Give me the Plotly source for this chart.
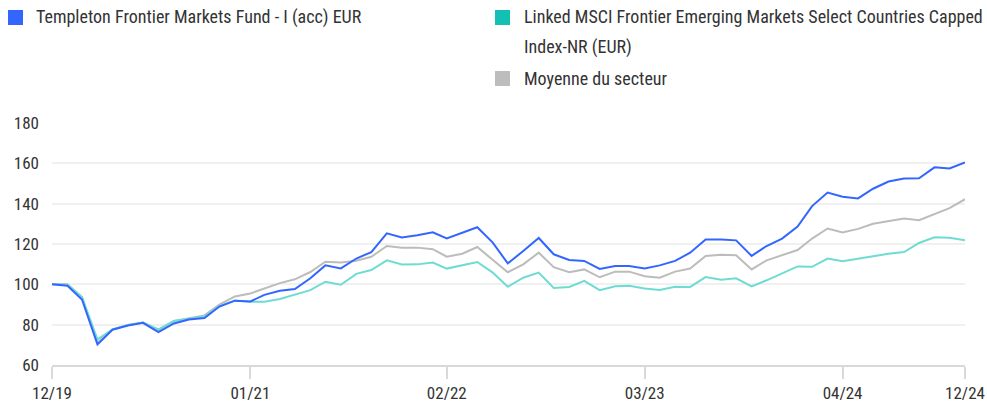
import pandas as pd
import plotly.graph_objects as go

dates = pd.date_range("2019-12-31", periods=61, freq="ME")

fund = [100, 99.3, 92.5, 70.2, 77.5, 79.6, 80.9, 76.3, 80.6, 82.6, 83.3, 89, 91.9, 91.5, 94.8,
        96.8, 97.7, 103, 109.4, 107.9, 112.8, 116, 125.3, 123.2, 124.3, 125.8, 122.8, 125.7,
        128.3, 120.7, 110.4, 116.5, 123, 114.9, 112.1, 111.6, 107.6, 109.1, 109.1, 107.9, 109.4,
        111.6, 115.7, 122.2, 122.2, 121.8, 114.1, 119, 122.7, 128.6, 138.8, 145.5, 143.4, 142.6,
        147.4, 151, 152.5, 152.6, 158, 157.5, 160.4]

sector = [100, 100, 93.7, 71, 77.7, 79.8, 81.1, 77.2, 81.8, 83.1, 84.6, 90, 94, 95.5, 98.1,
          100.6, 102.5, 106.1, 111.2, 110.8, 111.7, 113.7, 119, 118.2, 118.2, 117.4, 113.7, 115.2,
          118.5, 112.1, 106, 109.9, 115.7, 108.5, 106, 107.4, 103.5, 106.3, 106.3, 104, 103.3,
          106.3, 107.8, 114.1, 114.7, 114.4, 107.4, 111.9, 114.4, 117, 122.7, 127.7, 125.7, 127.5,
          130, 131.4, 132.6, 131.8, 135, 137.8, 142.2]

index_nr = [100, 99.8, 93.7, 72.7, 77.7, 79.8, 81.1, 77.7, 81.8, 82.8, 84, 89.2, 92, 91.4, 91.4,
            92.7, 94.7, 97.1, 101.3, 99.8, 105.2, 107.1, 111.9, 109.8, 109.9, 110.8, 107.8, 109.6,
            111.1, 105.8, 98.8, 103.3, 105.8, 98.2, 98.7, 101.7, 97.1, 99, 99.3, 97.9, 97.2,
            98.8, 98.7, 103.6, 102.3, 103, 99, 102, 105.5, 108.9, 108.7, 112.8, 111.4, 112.6,
            113.7, 115.2, 116, 120.5, 123.3, 123.1, 121.9]

tick_dates = ["2019-12-31", "2021-01-31", "2022-02-28", "2023-03-31", "2024-04-30", "2024-12-31"]
tick_labels = ["12/19", "01/21", "02/22", "03/23", "04/24", "12/24"]
y_ticks = [60, 80, 100, 120, 140, 160, 180]

names = ["Templeton Frontier Markets Fund - I (acc) EUR",
         "Linked MSCI Frontier Emerging Markets Select Countries Capped",
         "Index-NR (EUR)",
         "Moyenne du secteur"]

FONT = "Liberation Sans Narrow, Roboto Condensed, DejaVu Sans Condensed, Roboto, sans-serif"
TXT = "#333333"

fig = go.Figure()
fig.add_trace(go.Scatter(x=dates, y=sector, mode="lines", line=dict(color="#bcbcbc", width=2),
                         name=names[3], showlegend=False))
fig.add_trace(go.Scatter(x=dates, y=index_nr, mode="lines", line=dict(color="#6edcd2", width=2),
                         name=names[1], showlegend=False))
fig.add_trace(go.Scatter(x=dates, y=fund, mode="lines", line=dict(color="#3366ff", width=2),
                         name=names[0], showlegend=False))

# legend squares
sq = [(8, 10, "#3366ff"), (495, 10, "#14c0b4"), (495, 71, "#bdbdbd")]
for x0, y0, c in sq:
    fig.add_shape(type="rect", xref="paper", yref="paper",
                  x0=(x0 - 52) / 913, x1=(x0 + 15 - 52) / 913,
                  y0=(365 - y0) / 242, y1=(365 - y0 - 15) / 242,
                  fillcolor=c, line=dict(width=0), layer="above")

labels = [(34, 17, names[0]), (522, 17, names[1]), (522, 47, names[2]), (522, 78, names[3])]
for x, y, t in labels:
    fig.add_annotation(xref="paper", yref="paper", x=(x - 52) / 913, y=(365 - y) / 242,
                       text=t, showarrow=False, xanchor="left", yanchor="middle",
                       font=dict(family=FONT, size=18, color=TXT))

fig.update_layout(
    width=987, height=405,
    margin=dict(l=52, r=22, t=123, b=40, autoexpand=False),
    paper_bgcolor="white", plot_bgcolor="white",
    font=dict(family=FONT, size=17, color=TXT),
    showlegend=False,
)
fig.update_xaxes(
    range=[dates[0], dates[-1]], automargin=False,
    tickvals=pd.to_datetime(tick_dates), ticktext=tick_labels,
    showgrid=False, showline=True, linecolor="#d9d9d9", linewidth=2,
    ticks="outside", ticklen=12, tickwidth=2, tickcolor="#d9d9d9",
    tickfont=dict(family=FONT, size=17, color=TXT),
)
fig.update_yaxes(
    range=[60, 180], tickvals=y_ticks, automargin=False,
    showgrid=True, gridcolor="#f0f0f0", gridwidth=2,
    zeroline=False, showline=False, ticks="",
    ticklabelstandoff=12,
    tickfont=dict(family=FONT, size=17, color=TXT),
)

fig.write_html("out.html", config={"displayModeBar": False},
               post_script="document.body.style.margin='0';")
